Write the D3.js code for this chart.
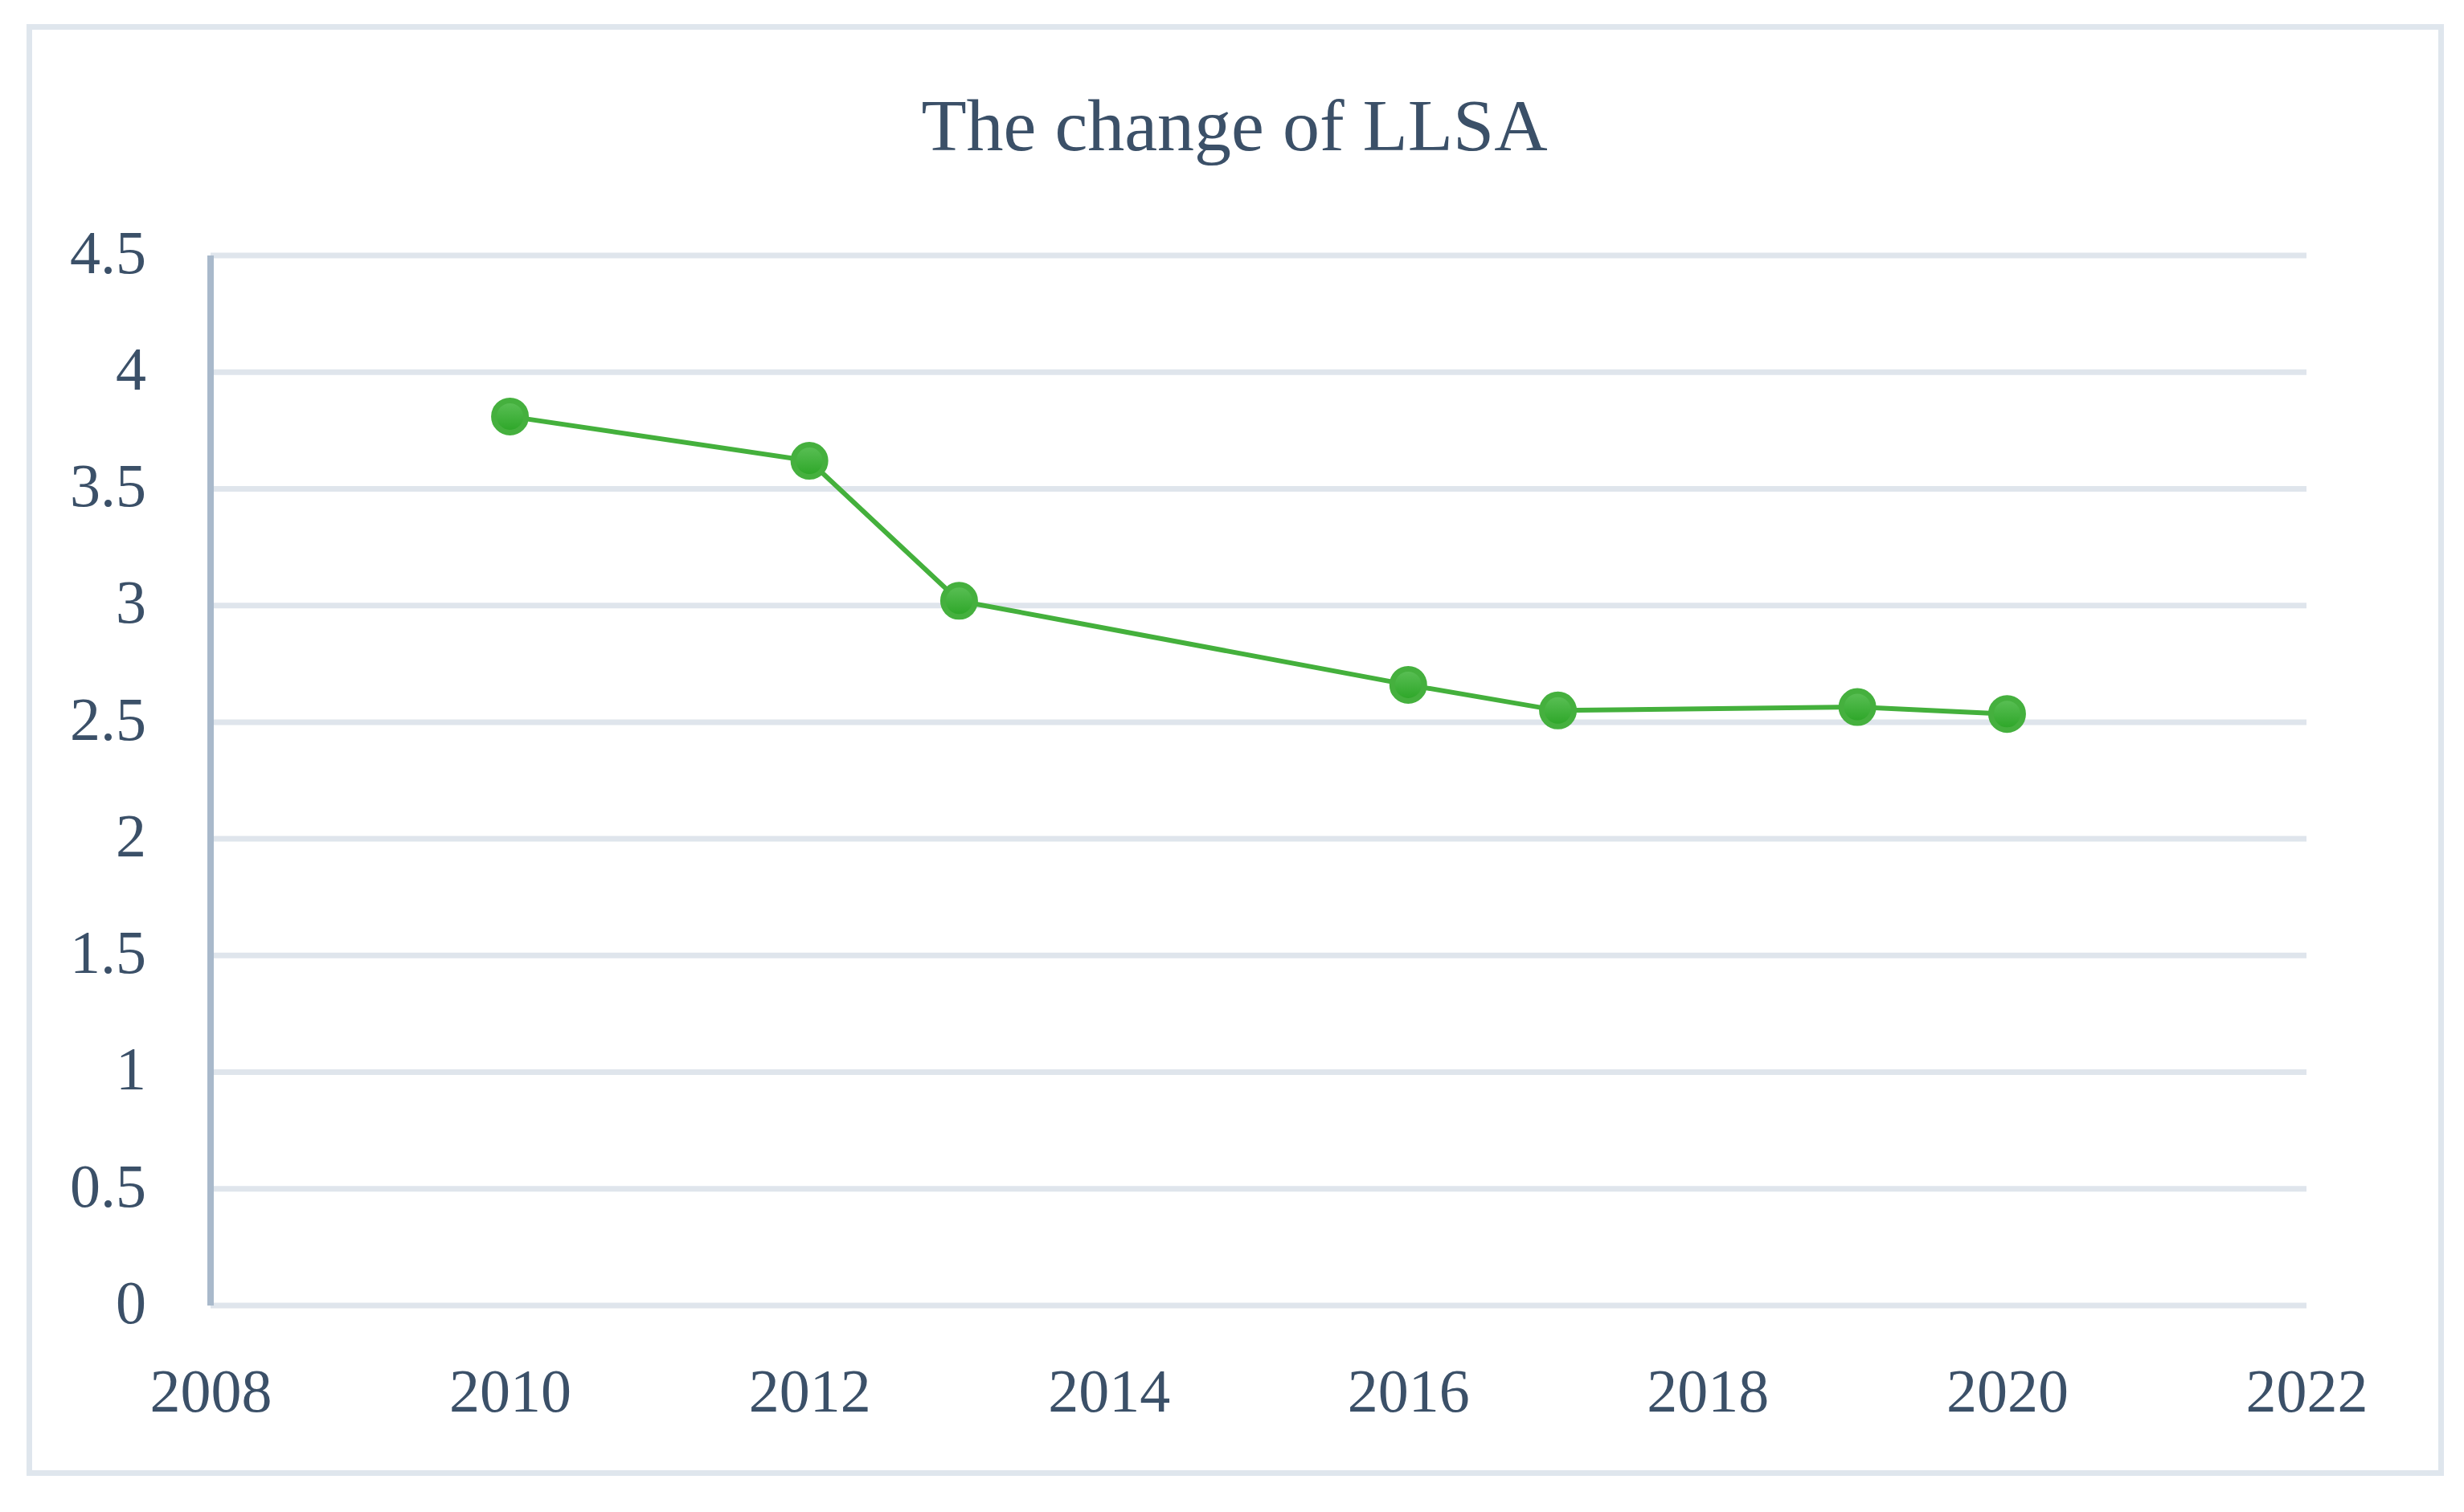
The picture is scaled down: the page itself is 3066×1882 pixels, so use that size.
<!DOCTYPE html>
<html>
<head>
<meta charset="utf-8">
<script src="https://cdn.jsdelivr.net/npm/d3@7"></script>
<style>
  html, body { margin: 0; padding: 0; background: #ffffff; }
  svg { display: block; }
</style>
</head>
<body>
<svg id="chart" width="3066" height="1882"></svg>
<script>
const title = "The change of LLSA";
const years = [2010, 2012, 2013, 2016, 2017, 2019, 2020];
const llsa = [3.81, 3.62, 3.02, 2.66, 2.55, 2.565, 2.535];
const xTicks = [2008, 2010, 2012, 2014, 2016, 2018, 2020, 2022];
const yTicks = [0, 0.5, 1, 1.5, 2, 2.5, 3, 3.5, 4, 4.5];

const svg = d3.select("#chart");
const fontFam = "'Palatino Linotype', 'Book Antiqua', Palatino, 'Liberation Serif', 'DejaVu Serif', serif";
const textColor = "#3b5068";

// outer border
svg.append("rect")
  .attr("x", 36.5).attr("y", 33.5)
  .attr("width", 3001).attr("height", 1800)
  .attr("fill", "#ffffff")
  .attr("stroke", "#dfe6ed").attr("stroke-width", 7);

const x = d3.scaleLinear().domain([2008, 2022]).range([262, 2870]);
const y = d3.scaleLinear().domain([0, 4.5]).range([1625, 318]);

// title
svg.append("text")
  .attr("x", 1536).attr("y", 187)
  .attr("text-anchor", "middle")
  .attr("font-family", fontFam)
  .attr("font-size", 92)
  .attr("fill", textColor)
  .text(title);

// gridlines
svg.append("g").selectAll("line")
  .data(yTicks)
  .join("line")
  .attr("x1", x(2008)).attr("x2", x(2022))
  .attr("y1", d => y(d)).attr("y2", d => y(d))
  .attr("stroke", "#dfe5ec").attr("stroke-width", 7);

// y axis line
svg.append("line")
  .attr("x1", x(2008)).attr("x2", x(2008))
  .attr("y1", y(4.5)).attr("y2", y(0))
  .attr("stroke", "#a9b9cb").attr("stroke-width", 8);

// y axis labels
const yAxis = d3.axisLeft(y).tickValues(yTicks).tickSize(0).tickPadding(80)
  .tickFormat(d => String(d));
const gy = svg.append("g").attr("transform", `translate(${x(2008)},0)`).call(yAxis);
gy.select(".domain").remove();
gy.selectAll("text")
  .attr("font-family", fontFam).attr("font-size", 76)
  .attr("fill", textColor).attr("dy", "0.28em");

// x axis labels
const xAxis = d3.axisBottom(x).tickValues(xTicks).tickSize(0).tickPadding(0)
  .tickFormat(d => String(d));
const gx = svg.append("g").attr("transform", `translate(0,${y(0)})`).call(xAxis);
gx.select(".domain").remove();
gx.selectAll("text")
  .attr("font-family", fontFam).attr("font-size", 76)
  .attr("fill", textColor).attr("y", 132).attr("dy", 0);

// gradient for markers
const defs = svg.append("defs");
const grad = defs.append("linearGradient").attr("id", "mk")
  .attr("x1", 0).attr("y1", 0).attr("x2", 0).attr("y2", 1);
grad.append("stop").attr("offset", "0%").attr("stop-color", "#5cc057");
grad.append("stop").attr("offset", "100%").attr("stop-color", "#2ba526");

const data = years.map((yr, i) => ({ yr, v: llsa[i] }));

// line
svg.append("path")
  .datum(data)
  .attr("fill", "none")
  .attr("stroke", "#44b03c")
  .attr("stroke-width", 6)
  .attr("d", d3.line().x(d => x(d.yr)).y(d => y(d.v)));

// markers
svg.append("g").selectAll("circle")
  .data(data)
  .join("circle")
  .attr("cx", d => x(d.yr)).attr("cy", d => y(d.v))
  .attr("r", 20)
  .attr("fill", "url(#mk)")
  .attr("stroke", "#45b03e").attr("stroke-width", 7);
</script>
</body>
</html>
